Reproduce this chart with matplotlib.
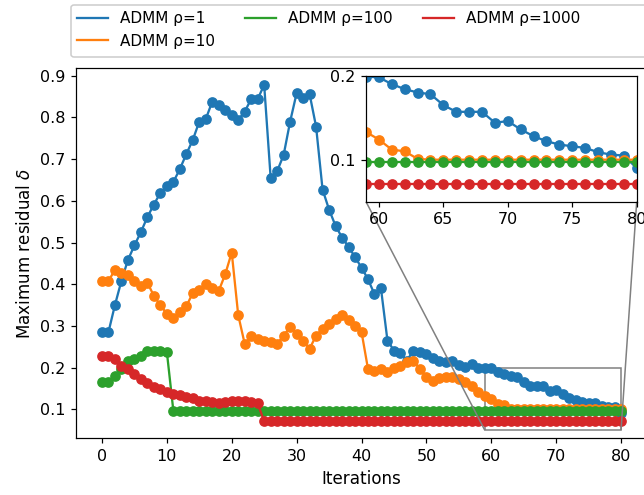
import matplotlib
matplotlib.use("Agg")
import matplotlib.pyplot as plt
from matplotlib.lines import Line2D
from matplotlib.patches import FancyBboxPatch
from mpl_toolkits.axes_grid1.inset_locator import mark_inset

iterations = list(range(81))

rho1 = [0.285, 0.285, 0.350, 0.408, 0.458, 0.493, 0.525, 0.561, 0.591, 0.619,
        0.635, 0.645, 0.676, 0.712, 0.746, 0.790, 0.796, 0.838, 0.830, 0.818,
        0.806, 0.794, 0.814, 0.844, 0.844, 0.878, 0.655, 0.671, 0.710, 0.790,
        0.858, 0.846, 0.856, 0.778, 0.627, 0.579, 0.540, 0.512, 0.490, 0.465,
        0.440, 0.412, 0.376, 0.390, 0.265, 0.241, 0.235, 0.217, 0.241, 0.238,
        0.232, 0.224, 0.215, 0.213, 0.217, 0.207, 0.202, 0.209, 0.200, 0.199,
        0.198, 0.190, 0.184, 0.180, 0.178, 0.165, 0.157, 0.157, 0.157, 0.144,
        0.146, 0.136, 0.128, 0.122, 0.118, 0.116, 0.114, 0.109, 0.106, 0.105,
        0.090]

rho10 = [0.408, 0.408, 0.434, 0.426, 0.422, 0.408, 0.396, 0.404, 0.372, 0.350,
         0.329, 0.320, 0.333, 0.347, 0.379, 0.386, 0.400, 0.390, 0.384, 0.424,
         0.476, 0.326, 0.257, 0.275, 0.269, 0.265, 0.261, 0.257, 0.277, 0.297,
         0.281, 0.265, 0.245, 0.277, 0.293, 0.305, 0.317, 0.326, 0.313, 0.300,
         0.286, 0.197, 0.193, 0.197, 0.189, 0.200, 0.205, 0.213, 0.217, 0.197,
         0.177, 0.169, 0.175, 0.177, 0.177, 0.172, 0.165, 0.155, 0.142, 0.133,
         0.124, 0.112, 0.110, 0.101, 0.100, 0.100, 0.100, 0.100, 0.100, 0.100,
         0.100, 0.100, 0.100, 0.100, 0.100, 0.100, 0.100, 0.100, 0.100, 0.100,
         0.100]

rho100 = [0.165, 0.165, 0.181, 0.197, 0.217, 0.221, 0.229, 0.241, 0.241, 0.241,
          0.238, 0.097, 0.097, 0.097, 0.097, 0.097, 0.097, 0.097, 0.097, 0.097,
          0.097, 0.097, 0.097, 0.097, 0.097, 0.097, 0.097, 0.097, 0.097, 0.097,
          0.097, 0.097, 0.097, 0.097, 0.097, 0.097, 0.097, 0.097, 0.097, 0.097,
          0.097, 0.097, 0.097, 0.097, 0.097, 0.097, 0.097, 0.097, 0.097, 0.097,
          0.097, 0.097, 0.097, 0.097, 0.097, 0.097, 0.097, 0.097, 0.097, 0.097,
          0.097, 0.097, 0.097, 0.097, 0.097, 0.097, 0.097, 0.097, 0.097, 0.097,
          0.097, 0.097, 0.097, 0.097, 0.097, 0.097, 0.097, 0.097, 0.097, 0.097,
          0.097]

rho1000 = [0.229, 0.229, 0.221, 0.205, 0.197, 0.185, 0.173, 0.164, 0.153, 0.148,
           0.142, 0.136, 0.134, 0.130, 0.128, 0.121, 0.119, 0.117, 0.116, 0.118,
           0.120, 0.120, 0.119, 0.118, 0.114, 0.071, 0.071, 0.071, 0.071, 0.071,
           0.071, 0.071, 0.071, 0.071, 0.071, 0.071, 0.071, 0.071, 0.071, 0.071,
           0.071, 0.071, 0.071, 0.071, 0.071, 0.071, 0.071, 0.071, 0.071, 0.071,
           0.071, 0.071, 0.071, 0.071, 0.071, 0.071, 0.071, 0.071, 0.071, 0.071,
           0.071, 0.071, 0.071, 0.071, 0.071, 0.071, 0.071, 0.071, 0.071, 0.071,
           0.071, 0.071, 0.071, 0.071, 0.071, 0.071, 0.071, 0.071, 0.071, 0.071,
           0.071]

series = [rho1, rho10, rho100, rho1000]
labels = ["ADMM ρ=1", "ADMM ρ=10", "ADMM ρ=100", "ADMM ρ=1000"]
colors = ["#1f77b4", "#ff7f0e", "#2ca02c", "#d62728"]

main_xticks = [0, 10, 20, 30, 40, 50, 60, 70, 80]
main_yticks = [0.1, 0.2, 0.3, 0.4, 0.5, 0.6, 0.7, 0.8, 0.9]
inset_xticks = [60, 65, 70, 75, 80]
inset_yticks = [0.1, 0.2]

W, H, DPI = 644, 495, 110
fig = plt.figure(figsize=(W / DPI, H / DPI), dpi=DPI)

ax = fig.add_axes([76 / W, (H - 438.3) / H, (647 - 76) / W, (438.3 - 68) / H])
for ys, lab, c in zip(series, labels, colors):
    ax.plot(iterations, ys, '-o', color=c, label=lab)
ax.set_xlim(-4, 84)
ax.set_ylim(0.0305, 0.9185)
ax.set_xticks(main_xticks)
ax.set_yticks(main_yticks)
ax.tick_params(labelsize=10.5)
ax.set_xlabel("Iterations", fontsize=11)
ax.set_ylabel(r"Maximum residual $\delta$", fontsize=11)

axins = fig.add_axes([366 / W, (H - 201.7) / H, (636.7 - 366) / W, (201.7 - 75.7) / H])
for ys, c in zip(series, colors):
    axins.plot(iterations, ys, '-o', color=c)
axins.set_xlim(59, 80)
axins.set_ylim(0.05, 0.2)
axins.set_xticks(inset_xticks)
axins.set_yticks(inset_yticks)
axins.tick_params(labelsize=10.5)
mark_inset(ax, axins, loc1=3, loc2=4, fc="none", ec="0.5")

frame = FancyBboxPatch((71 / W, (H - 57) / H), (700 - 71) / W, 52 / H,
                       boxstyle="round,pad=0,rounding_size=0.005",
                       transform=fig.transFigure, facecolor="white",
                       edgecolor="0.8", linewidth=1.0, zorder=1)
fig.patches.append(frame)
handles = [Line2D([], [], color=c) for c in colors]
fig.legend(handles=handles, labels=labels, loc="upper left", ncol=3,
           bbox_to_anchor=(71 / W, 1 - 5 / H), borderaxespad=0,
           frameon=False)

fig.savefig("out.png", dpi=DPI)
